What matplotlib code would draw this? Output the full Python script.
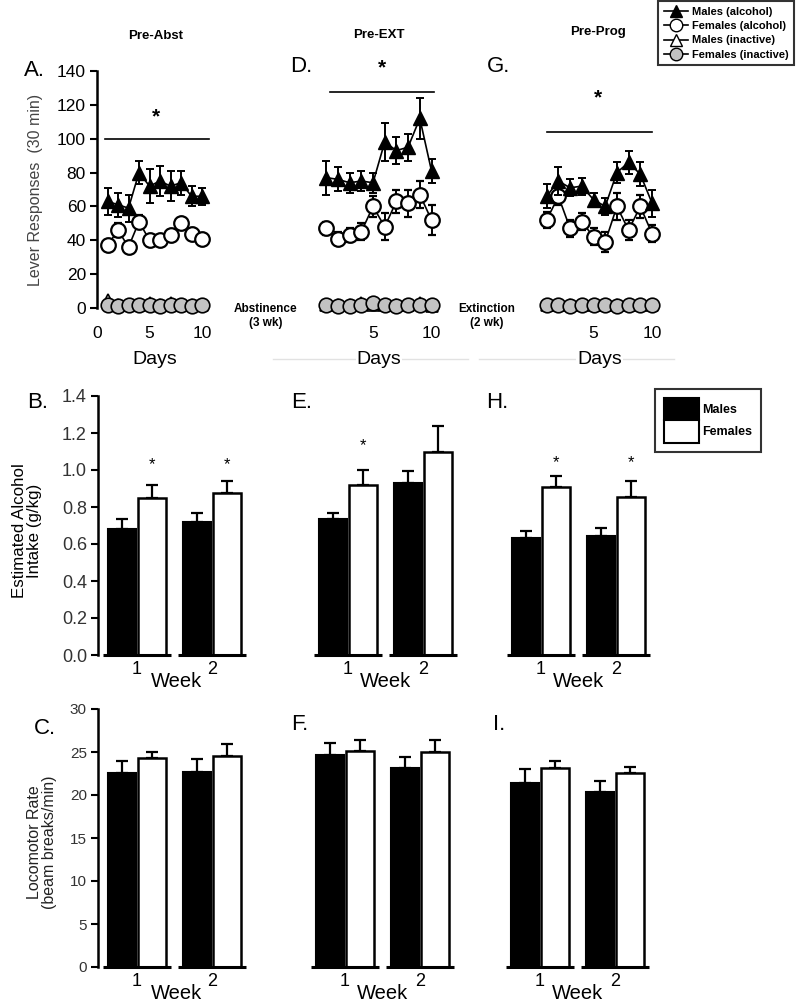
import numpy as np
import matplotlib.pyplot as plt
from matplotlib.lines import Line2D
from matplotlib.patches import Patch

plt.rcParams['font.family'] = ['Liberation Sans', 'DejaVu Sans']

W, H = 800, 1008

days = np.arange(1, 11)

# lever responses, pre-abstinence
abst_m_alc = [63, 61, 59, 80, 72, 75, 72, 74, 66, 66]
abst_m_err = [8, 7, 8, 7, 10, 9, 9, 7, 6, 5]
abst_f_alc = [37, 46, 36, 51, 40, 40, 43, 50, 44, 41]
abst_f_err = [3, 4, 3, 4, 3, 3, 3, 3, 3, 3]
abst_m_in = [5, 2, 2, 2, 3, 2, 3, 2, 2, 2]
abst_f_in = [2, 1, 2, 2, 2, 1, 2, 2, 1, 2]

# pre-extinction
ext_m_alc = [77, 76, 74, 75, 74, 98, 93, 95, 112, 81]
ext_m_err = [10, 7, 6, 6, 6, 11, 8, 8, 12, 7]
ext_f_alc = [47, 41, 43, 45, 60, 48, 63, 62, 67, 52]
ext_f_err = [4, 4, 4, 5, 6, 8, 7, 8, 8, 9]
ext_m_in = [2, 2, 2, 3, 2, 2, 2, 2, 3, 1]
ext_f_in = [2, 1, 1, 2, 3, 2, 1, 2, 2, 2]

# pre-progressive ratio
prog_m_alc = [66, 75, 71, 72, 64, 60, 80, 86, 79, 62]
prog_m_err = [7, 8, 5, 5, 4, 5, 6, 7, 7, 8]
prog_f_alc = [52, 66, 47, 51, 42, 39, 60, 46, 60, 44]
prog_f_err = [5, 5, 5, 5, 5, 6, 8, 6, 7, 5]
prog_m_in = [2, 2, 2, 2, 2, 2, 2, 2, 2, 2]
prog_f_in = [2, 2, 1, 2, 2, 2, 1, 2, 2, 2]

weeks = ['1', '2']

# estimated alcohol intake (g/kg)
intake_m = {'B': [0.68, 0.72], 'E': [0.735, 0.93], 'H': [0.63, 0.645]}
intake_m_err = {'B': [0.055, 0.045], 'E': [0.035, 0.065], 'H': [0.04, 0.04]}
intake_f = {'B': [0.85, 0.875], 'E': [0.92, 1.10], 'H': [0.91, 0.855]}
intake_f_err = {'B': [0.07, 0.065], 'E': [0.08, 0.14], 'H': [0.06, 0.085]}

# locomotor rate (beam breaks/min)
loco_m = {'C': [22.6, 22.7], 'F': [24.7, 23.1], 'I': [21.4, 20.3]}
loco_m_err = {'C': [1.4, 1.5], 'F': [1.4, 1.3], 'I': [1.6, 1.3]}
loco_f = {'C': [24.3, 24.5], 'F': [25.1, 25.0], 'I': [23.1, 22.6]}
loco_f_err = {'C': [0.7, 1.4], 'F': [1.3, 1.4], 'I': [0.8, 0.7]}


def px_axes(fig, left, top, width, height):
    return fig.add_axes([left / W, 1 - (top + height) / H, width / W, height / H])


fig = plt.figure(figsize=(8, 10.08), dpi=100)

# ---------------- top row ----------------
def lever_panel(ax, m_alc, m_err, f_alc, f_err, m_in, f_in, show_y, xt):
    ax.plot(days, m_in, '-^', color='k', mfc='white', mec='k', ms=9, mew=1.2,
            lw=1.2, zorder=3, clip_on=False)
    ax.plot(days, f_in, '-o', color='k', mfc='#c2c2c2', mec='k', ms=10.5, mew=1.2,
            lw=1.2, zorder=3.5, clip_on=False)
    ax.errorbar(days, f_alc, yerr=f_err, fmt='-o', color='k', mfc='white', mec='k',
                ms=10.5, mew=1.6, lw=1.2, capsize=3, elinewidth=1.4, capthick=1.4, zorder=4)
    ax.errorbar(days, m_alc, yerr=m_err, fmt='-^', color='k', mfc='k', mec='k',
                ms=10.5, lw=1.2, capsize=3, elinewidth=1.4, capthick=1.4, zorder=5)
    ax.set_xlim(0, 11)
    ax.set_ylim(0, 140)
    ax.set_xticks(xt)
    ax.set_xticklabels([str(t) for t in xt])
    ax.tick_params(axis='x', length=0, pad=13, labelsize=12.5)
    for s in ['top', 'right']:
        ax.spines[s].set_visible(False)
    ax.spines['bottom'].set_visible(False)
    if show_y:
        ax.spines['left'].set_linewidth(1.8)
        ax.set_yticks(np.arange(0, 141, 20))
        ax.tick_params(axis='y', length=5, width=1.5, labelsize=12.5, pad=3)
    else:
        ax.spines['left'].set_visible(False)
        ax.set_yticks([])
    ax.set_xlabel('Days', fontsize=14, labelpad=7,
                  bbox=dict(facecolor='white', edgecolor='none', pad=0.5))
    ax.patch.set_alpha(0)


fig.add_artist(Line2D([273 / W, 468 / W], [1 - 359 / H, 1 - 359 / H], color='#e2e2e2', lw=1, zorder=-1))
fig.add_artist(Line2D([479 / W, 674 / W], [1 - 359 / H, 1 - 359 / H], color='#e2e2e2', lw=1, zorder=-1))

axA = px_axes(fig, 97, 71, 115.5, 237)
lever_panel(axA, abst_m_alc, abst_m_err, abst_f_alc, abst_f_err, abst_m_in, abst_f_in, True, [0, 5, 10])
axA.set_ylabel('Lever Responses  (30 min)', fontsize=11.5, color='#444444')
axA.yaxis.set_label_coords(-0.47, 0.5)
axA.plot([0.75, 10.7], [100, 100], color='k', lw=1.2, clip_on=False)
axA.text(5.6, 113, '*', fontsize=15, ha='center', va='center', fontweight='bold')

axD = px_axes(fig, 314.5, 71, 128.7, 237)
lever_panel(axD, ext_m_alc, ext_m_err, ext_f_alc, ext_f_err, ext_m_in, ext_f_in, False, [5, 10])
axD.plot([1.3, 10.2], [127.5, 127.5], color='k', lw=1.2, clip_on=False)
axD.text(5.8, 142, '*', fontsize=15, ha='center', va='center', fontweight='bold')

axG = px_axes(fig, 535, 71, 128.7, 237)
lever_panel(axG, prog_m_alc, prog_m_err, prog_f_alc, prog_f_err, prog_m_in, prog_f_in, False, [5, 10])
axG.plot([1.0, 10.0], [104, 104], color='k', lw=1.2, clip_on=False)
axG.text(5.4, 124, '*', fontsize=15, ha='center', va='center', fontweight='bold')

fig.text(156 / W, 1 - 36 / H, 'Pre-Abst', fontsize=9.5, fontweight='bold', ha='center', va='center')
fig.text(379 / W, 1 - 35 / H, 'Pre-EXT', fontsize=9.5, fontweight='bold', ha='center', va='center')
fig.text(598 / W, 1 - 32 / H, 'Pre-Prog', fontsize=9.5, fontweight='bold', ha='center', va='center')
fig.text(24 / W, 1 - 70 / H, 'A.', fontsize=16, ha='left', va='center')
fig.text(290 / W, 1 - 67 / H, 'D.', fontsize=16, ha='left', va='center')
fig.text(487 / W, 1 - 67 / H, 'G.', fontsize=16, ha='left', va='center')
fig.text(266 / W, 1 - 316 / H, 'Abstinence\n(3 wk)', fontsize=8.5, fontweight='bold',
         ha='center', va='center', linespacing=1.3)
fig.text(487 / W, 1 - 316 / H, 'Extinction\n(2 wk)', fontsize=8.5, fontweight='bold',
         ha='center', va='center', linespacing=1.3)

top_handles = [
    Line2D([], [], color='k', marker='^', mfc='k', ms=9, lw=1.2),
    Line2D([], [], color='k', marker='o', mfc='white', ms=9, lw=1.2),
    Line2D([], [], color='k', marker='^', mfc='white', ms=9, lw=1.2),
    Line2D([], [], color='k', marker='o', mfc='#c2c2c2', ms=9, lw=1.2),
]
top_labels = ['Males (alcohol)', 'Females (alcohol)', 'Males (inactive)', 'Females (inactive)']
leg1 = fig.legend(top_handles, top_labels, loc='upper right', bbox_to_anchor=(794 / W, 1 - 1 / H),
                  prop={'size': 8, 'weight': 'bold'}, frameon=True, fancybox=False,
                  handlelength=2.2, handletextpad=0.3, labelspacing=0.4, borderpad=0.5,
                  borderaxespad=0)
leg1.get_frame().set_edgecolor('k')
leg1.get_frame().set_linewidth(1.5)


# ---------------- bar rows ----------------
UNIT = 75.0
XL = (-0.55, 1.55)


def bar_panel(ax, m, m_err, f, f_err, ylim, yticks, fmt, show_y, tick_fs):
    x = np.arange(len(weeks))
    off, bw = 0.2, 0.37
    ax.bar(x - off, m, bw, color='k', edgecolor='k', lw=1.5, zorder=2)
    ax.bar(x + off, f, bw, color='white', edgecolor='k', lw=1.8, zorder=2)
    ax.errorbar(x - off, m, yerr=[np.zeros(len(m)), m_err], fmt='none', ecolor='k',
                elinewidth=1.6, capsize=4, capthick=1.6, zorder=1)
    ax.errorbar(x + off, f, yerr=[np.zeros(len(f)), f_err], fmt='none', ecolor='k',
                elinewidth=1.6, capsize=4, capthick=1.6, zorder=1)
    for xi in x:
        ax.plot([xi - 0.45, xi + 0.45], [0, 0], color='k', lw=2.2, clip_on=False, zorder=3,
                solid_capstyle='butt')
    ax.set_ylim(*ylim)
    ax.set_xticks(x)
    ax.set_xticklabels(weeks)
    ax.tick_params(axis='x', length=0, pad=4, labelsize=13)
    ax.spines['top'].set_visible(False)
    ax.spines['right'].set_visible(False)
    ax.spines['bottom'].set_visible(False)
    if show_y:
        ax.set_xlim(-0.52, 1.57)
        ax.spines['left'].set_linewidth(1.8)
        ax.set_yticks(yticks)
        ax.set_yticklabels([fmt.format(v) for v in yticks], color='#333333')
        ax.tick_params(axis='y', length=5, width=1.5, labelsize=tick_fs, pad=3)
    else:
        ax.set_xlim(*XL)
        ax.spines['left'].set_visible(False)
        ax.set_yticks([])
    ax.set_xlabel('Week', fontsize=14.5, labelpad=-4)
    ax.patch.set_alpha(0)


intake_ticks = np.round(np.arange(0, 1.41, 0.2), 1)
loco_ticks = np.arange(0, 31, 5)

axB = px_axes(fig, 98, 396, 157, 259)
bar_panel(axB, intake_m['B'], intake_m_err['B'], intake_f['B'], intake_f_err['B'],
          (0, 1.4), intake_ticks, '{:.1f}', True, 13)
axB.set_ylabel('Estimated Alcohol\nIntake (g/kg)', fontsize=12.2, linespacing=1.05)
axB.yaxis.set_label_coords(-0.355, 0.48)

axE = px_axes(fig, 348 - 0.55 * UNIT, 396, 2.1 * UNIT, 259)
bar_panel(axE, intake_m['E'], intake_m_err['E'], intake_f['E'], intake_f_err['E'],
          (0, 1.4), intake_ticks, '{:.1f}', False, 13)

axH = px_axes(fig, 541 - 0.55 * UNIT, 396, 2.1 * UNIT, 259)
bar_panel(axH, intake_m['H'], intake_m_err['H'], intake_f['H'], intake_f_err['H'],
          (0, 1.4), intake_ticks, '{:.1f}', False, 13)

for ax, xs, ys in [(axB, [0.2, 1.2], [1.03, 1.03]), (axE, [0.2], [1.13]), (axH, [0.2, 1.2], [1.04, 1.04])]:
    for xs_, ys_ in zip(xs, ys):
        ax.text(xs_, ys_, '*', fontsize=12, ha='center', va='center')

axC = px_axes(fig, 98, 709, 157, 258)
bar_panel(axC, loco_m['C'], loco_m_err['C'], loco_f['C'], loco_f_err['C'],
          (0, 30), loco_ticks, '{:d}', True, 11)
axC.set_ylabel('Locomotor Rate\n(beam breaks/min)', fontsize=11.5, linespacing=1.05, color='#222222')
axC.yaxis.set_label_coords(-0.26, 0.485)

axF = px_axes(fig, 345 - 0.55 * UNIT, 709, 2.1 * UNIT, 258)
bar_panel(axF, loco_m['F'], loco_m_err['F'], loco_f['F'], loco_f_err['F'],
          (0, 30), loco_ticks, '{:d}', False, 11)

axI = px_axes(fig, 540 - 0.55 * UNIT, 709, 2.1 * UNIT, 258)
bar_panel(axI, loco_m['I'], loco_m_err['I'], loco_f['I'], loco_f_err['I'],
          (0, 30), loco_ticks, '{:d}', False, 11)

fig.text(27 / W, 1 - 402 / H, 'B.', fontsize=16, ha='left', va='center')
fig.text(291 / W, 1 - 403 / H, 'E.', fontsize=16, ha='left', va='center')
fig.text(486 / W, 1 - 403 / H, 'H.', fontsize=16, ha='left', va='center')
fig.text(34 / W, 1 - 728 / H, 'C.', fontsize=16, ha='left', va='center')
fig.text(291 / W, 1 - 725 / H, 'F.', fontsize=16, ha='left', va='center')
fig.text(493 / W, 1 - 725 / H, 'I.', fontsize=16, ha='left', va='center')

bar_handles = [Patch(facecolor='k', edgecolor='k', lw=1.5),
               Patch(facecolor='white', edgecolor='k', lw=1.5)]
leg2 = fig.legend(bar_handles, ['Males', 'Females'], loc='upper left',
                  bbox_to_anchor=(655 / W, 1 - 389 / H), prop={'size': 9, 'weight': 'bold'},
                  frameon=True, fancybox=False, handlelength=2.8, handleheight=2.4,
                  handletextpad=0.3, labelspacing=0.0, borderpad=0.7, borderaxespad=0)
leg2.get_frame().set_edgecolor('k')
leg2.get_frame().set_linewidth(1.5)

fig.savefig('out.png', dpi=100)
